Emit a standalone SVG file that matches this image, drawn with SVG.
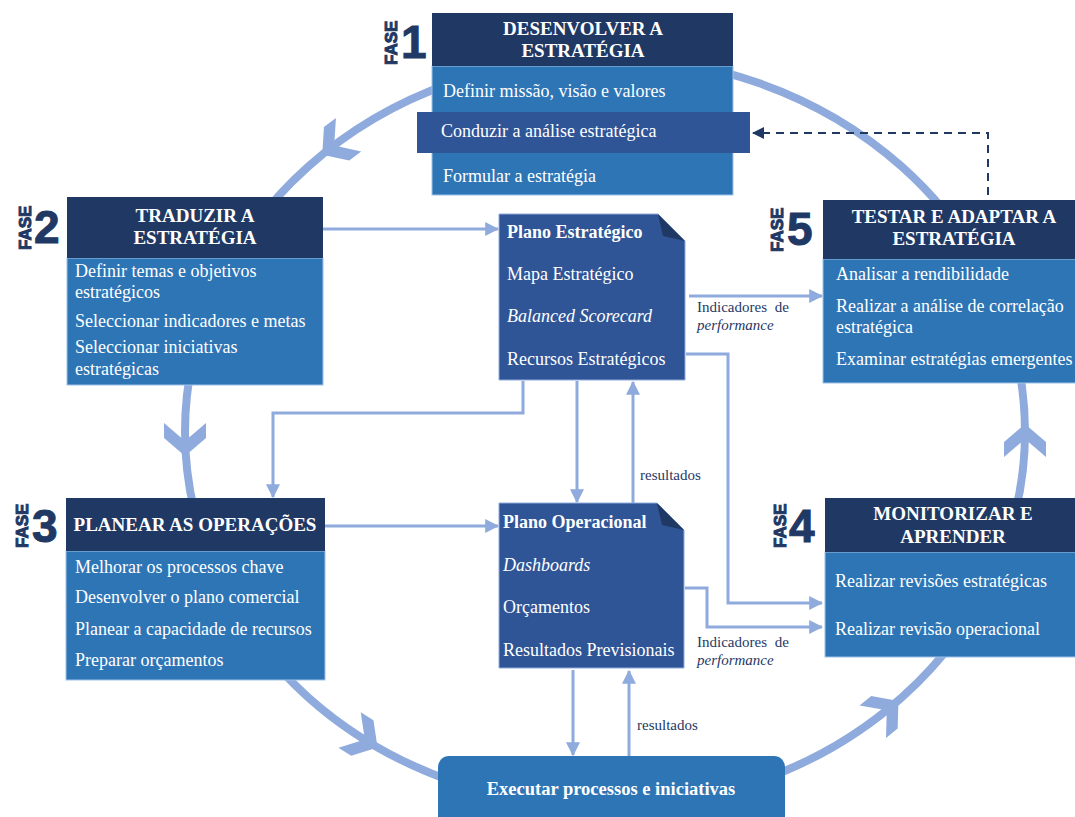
<svg xmlns="http://www.w3.org/2000/svg" width="1075" height="817" viewBox="0 0 1075 817">
  <style>
    .hdr { fill: #1F3864; }
    .body { fill: #2E75B6; stroke: #9DC3E6; stroke-width: 1; }
    .row { fill: #2F5597; }
    .doc { fill: #2F5597; stroke: #8FAADC; stroke-width: 1; }
    .fold { fill: #1F3864; }
    .ht { font-family: "Liberation Serif", "Times New Roman", serif; font-weight: bold; font-size: 19px; fill: #FFFFFF; text-anchor: middle; }
    .bt { font-family: "Liberation Serif", "Times New Roman", serif; font-size: 18px; fill: #FFFFFF; }
    .bold { font-weight: bold; }
    .it { font-style: italic; }
    .lbl { font-family: "Liberation Serif", "Times New Roman", serif; font-size: 15px; fill: #1F3864; }
    .fase { font-family: "Liberation Sans", Arial, sans-serif; font-weight: bold; font-size: 17px; fill: #1F3864; stroke: #1F3864; stroke-width: 1; }
    .num { font-family: "Liberation Sans", Arial, sans-serif; font-weight: bold; font-size: 46px; fill: #1F3864; stroke: #1F3864; stroke-width: 1; }
    .cycle { fill: none; stroke: #8FAADC; stroke-width: 8; }
    .chev { fill: #8FAADC; }
    .link { fill: none; stroke: #8FAADC; stroke-width: 3; marker-end: url(#head); }
    .dash { fill: none; stroke: #1F3864; stroke-width: 2; stroke-dasharray: 8 6; marker-end: url(#headDark); }
  </style>
  <defs>
    <marker id="head" viewBox="0 0 12 12" refX="11" refY="6" markerUnits="userSpaceOnUse" markerWidth="14" markerHeight="14" orient="auto">
      <path d="M0,0 L12,6 L0,12 z" fill="#8FAADC"/>
    </marker>
    <marker id="headDark" viewBox="0 0 12 12" refX="11" refY="6" markerUnits="userSpaceOnUse" markerWidth="12" markerHeight="12" orient="auto">
      <path d="M0,0 L12,6 L0,12 z" fill="#1F3864"/>
    </marker>
    <!-- chevron pointing down, centred on the origin -->
    <polygon id="chevron" points="-21,-17 0,1 21,-17 21,-2 0,16 -21,-2"/>
  </defs>

  <!-- management cycle ring -->
  <g id="cycle">
    <ellipse class="cycle" cx="605" cy="432" rx="420" ry="375"/>
    <use href="#chevron" class="chev" transform="translate(335,145) rotate(53)"/>
    <use href="#chevron" class="chev" transform="translate(185,440)"/>
    <use href="#chevron" class="chev" transform="translate(364,739) rotate(-58)"/>
    <use href="#chevron" class="chev" transform="translate(886,711) rotate(-129)"/>
    <use href="#chevron" class="chev" transform="translate(1025,440) rotate(180)"/>
  </g>

  <!-- connectors -->
  <g id="connectors">
    <path class="dash" d="M988,195 V133 H753"/>
    <path class="link" d="M323,229 H498"/>
    <path class="link" d="M689,296 H822"/>
    <path class="link" d="M686,354 H728 V603 H822"/>
    <path class="link" d="M685,588 H707 V627 H822"/>
    <path class="link" d="M523,381 V413 H273 V497"/>
    <path class="link" d="M577,381 V502"/>
    <path class="link" d="M633,503 V382"/>
    <path class="link" d="M325,526 H498"/>
    <path class="link" d="M573,670 V755"/>
    <path class="link" d="M629,756 V671"/>
    <text class="lbl" x="697" y="312" word-spacing="4">Indicadores de</text>
    <text class="lbl it" x="697" y="330">performance</text>
    <text class="lbl" x="697" y="647" word-spacing="4">Indicadores de</text>
    <text class="lbl it" x="697" y="665">performance</text>
    <text class="lbl" x="640" y="480">resultados</text>
    <text class="lbl" x="637" y="730">resultados</text>
  </g>

  <!-- Phase 1 -->
  <g id="fase1">
    <rect class="body" x="432" y="66" width="301" height="129"/>
    <rect class="hdr" x="432" y="13" width="301" height="53"/>
    <rect class="row" x="417" y="112" width="333" height="41"/>
    <text class="ht" x="583" y="35">DESENVOLVER A</text>
    <text class="ht" x="583" y="57">ESTRATÉGIA</text>
    <text class="bt" x="443" y="97">Definir missão, visão e valores</text>
    <text class="bt" x="441" y="137">Conduzir a análise estratégica</text>
    <text class="bt" x="443" y="182">Formular a estratégia</text>
    <text class="fase" transform="translate(397,65) rotate(-90)">FASE</text>
    <text class="num" x="401" y="58">1</text>
  </g>

  <!-- Phase 2 -->
  <g id="fase2">
    <rect class="body" x="67" y="258" width="256" height="127"/>
    <rect class="hdr" x="67" y="197" width="256" height="61"/>
    <text class="ht" x="195" y="222">TRADUZIR A</text>
    <text class="ht" x="195" y="244">ESTRATÉGIA</text>
    <text class="bt" x="75" y="277">Definir temas e objetivos</text>
    <text class="bt" x="75" y="298">estratégicos</text>
    <text class="bt" x="75" y="327">Seleccionar indicadores e metas</text>
    <text class="bt" x="75" y="353">Seleccionar iniciativas</text>
    <text class="bt" x="75" y="375">estratégicas</text>
    <text class="fase" transform="translate(31,250) rotate(-90)">FASE</text>
    <text class="num" x="34" y="243">2</text>
  </g>

  <!-- Phase 3 -->
  <g id="fase3">
    <rect class="body" x="66" y="551" width="259" height="129"/>
    <rect class="hdr" x="66" y="498" width="259" height="53"/>
    <text class="ht" x="195" y="531">PLANEAR AS OPERAÇÕES</text>
    <text class="bt" x="75" y="573">Melhorar os processos chave</text>
    <text class="bt" x="75" y="603">Desenvolver o plano comercial</text>
    <text class="bt" x="75" y="635">Planear a capacidade de recursos</text>
    <text class="bt" x="75" y="666">Preparar orçamentos</text>
    <text class="fase" transform="translate(28,548) rotate(-90)">FASE</text>
    <text class="num" x="32" y="542">3</text>
  </g>

  <!-- Phase 4 -->
  <g id="fase4">
    <rect class="body" x="825" y="552" width="255" height="105"/>
    <rect class="hdr" x="825" y="498" width="255" height="54"/>
    <text class="ht" x="953" y="520">MONITORIZAR E</text>
    <text class="ht" x="953" y="543">APRENDER</text>
    <text class="bt" x="835" y="587">Realizar revisões estratégicas</text>
    <text class="bt" x="835" y="635">Realizar revisão operacional</text>
    <text class="fase" transform="translate(786,548) rotate(-90)">FASE</text>
    <text class="num" x="789" y="542">4</text>
  </g>

  <!-- Phase 5 -->
  <g id="fase5">
    <rect class="body" x="823" y="259" width="257" height="124"/>
    <rect class="hdr" x="823" y="200" width="257" height="59"/>
    <text class="ht" x="954" y="223">TESTAR E ADAPTAR A</text>
    <text class="ht" x="954" y="245">ESTRATÉGIA</text>
    <text class="bt" x="836" y="280">Analisar a rendibilidade</text>
    <text class="bt" x="836" y="312">Realizar a análise de correlação</text>
    <text class="bt" x="836" y="333">estratégica</text>
    <text class="bt" x="836" y="365">Examinar estratégias emergentes</text>
    <text class="fase" transform="translate(783,252) rotate(-90)">FASE</text>
    <text class="num" x="787" y="245">5</text>
  </g>

  <!-- Strategic plan document -->
  <g id="plano-estrategico">
    <path class="doc" d="M499,214 H658 L685,241 V380 H499 Z"/>
    <polygon class="fold" points="658,214 685,241 663,236"/>
    <text class="bt bold" x="507" y="238">Plano Estratégico</text>
    <text class="bt" x="507" y="280">Mapa Estratégico</text>
    <text class="bt it" x="507" y="322">Balanced Scorecard</text>
    <text class="bt" x="507" y="365">Recursos Estratégicos</text>
  </g>

  <!-- Operational plan document -->
  <g id="plano-operacional">
    <path class="doc" d="M499,503 H657 L684,530 V668 H499 Z"/>
    <polygon class="fold" points="657,503 684,530 662,525"/>
    <text class="bt bold" x="503" y="528">Plano Operacional</text>
    <text class="bt it" x="503" y="571">Dashboards</text>
    <text class="bt" x="503" y="613">Orçamentos</text>
    <text class="bt" x="503" y="656">Resultados Previsionais</text>
  </g>

  <!-- Execution -->
  <g id="executar">
    <rect x="438" y="756" width="347" height="75" rx="11" fill="#2E75B6"/>
    <text class="ht" x="611" y="795" style="font-size:18.5px">Executar processos e iniciativas</text>
  </g>
</svg>
